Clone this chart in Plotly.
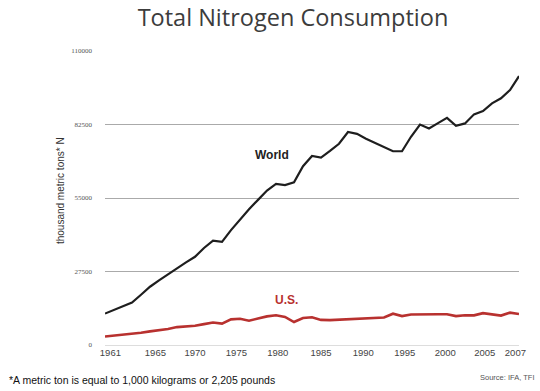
import plotly.graph_objects as go

years = list(range(1961, 2008))
world = [11750, 13100, 14500, 15900, 18800, 21800, 24200, 26500, 28500, 30900,
         33000, 36300, 39000, 38600, 43000, 47000, 50800, 54300, 57800, 60300,
         59800, 60900, 66900, 70700, 70100, 72600, 75300, 79700, 79000, 77200,
         75600, 73800, 72500, 72500, 77900, 82500, 81000, 83000, 85000, 82000,
         82900, 86300, 87500, 90400, 92300, 95400, 100600]
us = [3200, 3500, 3800, 4100, 4600, 5100, 5500, 6000, 6700, 6900,
      7200, 7800, 8400, 8000, 9600, 9800, 9100, 9900, 10700, 11100,
      10500, 8600, 10100, 10400, 9400, 9300, 9500, 9700, 9900, 10100,
      10200, 10300, 11700, 10800, 11400, 11500, 11500, 11500, 11500, 10800,
      11100, 11100, 11900, 11500, 11000, 12100, 11600]
x_tick_labels = ["1961", "1965", "1970", "1975", "1980", "1985", "1990",
                 "1995", "2000", "2005", "2007"]
y_ticks = [0, 27500, 55000, 82500, 110000]
y_tick_text = ["0", "27500", "55000", "82500", "110000"]

# label placement as laid out in the original graphic (labels sit evenly spaced,
# not exactly under their years)
x_label_pos = [1961.6, 1966.6, 1971.0, 1975.6, 1980.2, 1985.0, 1989.7,
               1994.3, 1998.8, 2003.2, 2006.6]

fig = go.Figure()
fig.add_trace(go.Scatter(x=years, y=world, mode="lines", name="World",
                         line=dict(color="#1e1e1e", width=2.2)))
fig.add_trace(go.Scatter(x=years, y=us, mode="lines", name="U.S.",
                         line=dict(color="#b8312f", width=2.6)))

fig.update_layout(
    width=540, height=391,
    margin=dict(l=105, r=21, t=51, b=46),
    paper_bgcolor="white", plot_bgcolor="white",
    showlegend=False,
    title=dict(text="Total Nitrogen Consumption", x=0.5426, xanchor="center",
               y=0.955, yanchor="middle",
               font=dict(family="Open Sans", size=23.5, color="#3c3c3c")),
    xaxis=dict(range=[1961, 2007], tickvals=x_label_pos, ticktext=x_tick_labels,
               showgrid=False, zeroline=False, showline=False, ticks="",
               tickangle=0,
               tickfont=dict(family="Arial", size=9.5, color="#444"),
               fixedrange=True),
    yaxis=dict(range=[0, 110000], tickvals=y_ticks, ticktext=y_tick_text,
               showgrid=True, gridcolor="#aaaaaa", gridwidth=1,
               zeroline=True, zerolinecolor="#dddddd", zerolinewidth=1,
               showline=False, ticks="", ticklabelstandoff=12,
               tickfont=dict(family="Liberation Serif", size=7, color="#555"),
               fixedrange=True),
)

fig.add_annotation(text="thousand metric tons* N", xref="paper", yref="paper",
                   x=-0.106, y=0.524, textangle=-90, showarrow=False,
                   xanchor="center", yanchor="middle",
                   font=dict(family="Arial", size=10, color="#333"))
fig.add_annotation(text="<b>World</b>", x=1979.5, y=71100, showarrow=False,
                   font=dict(family="Arial", size=12, color="#222"))
fig.add_annotation(text="<b>U.S.</b>", x=1981.2, y=16840, showarrow=False,
                   font=dict(family="Arial", size=12, color="#b8312f"))
fig.add_annotation(text="*A metric ton is equal to 1,000 kilograms or 2,205 pounds",
                   xref="paper", yref="paper", x=-0.237, y=-0.118,
                   xanchor="left", yanchor="middle", showarrow=False,
                   font=dict(family="Arial", size=10.5, color="#111"))
fig.add_annotation(text="Source: IFA, TFI", xref="paper", yref="paper",
                   x=1.04, y=-0.109, xanchor="right", yanchor="middle",
                   showarrow=False,
                   font=dict(family="Arial", size=7.5, color="#555"))

fig.write_html("out.html",
               config={"displayModeBar": False, "staticPlot": True},
               post_script="document.body.style.margin='0';document.body.style.padding='0';")
